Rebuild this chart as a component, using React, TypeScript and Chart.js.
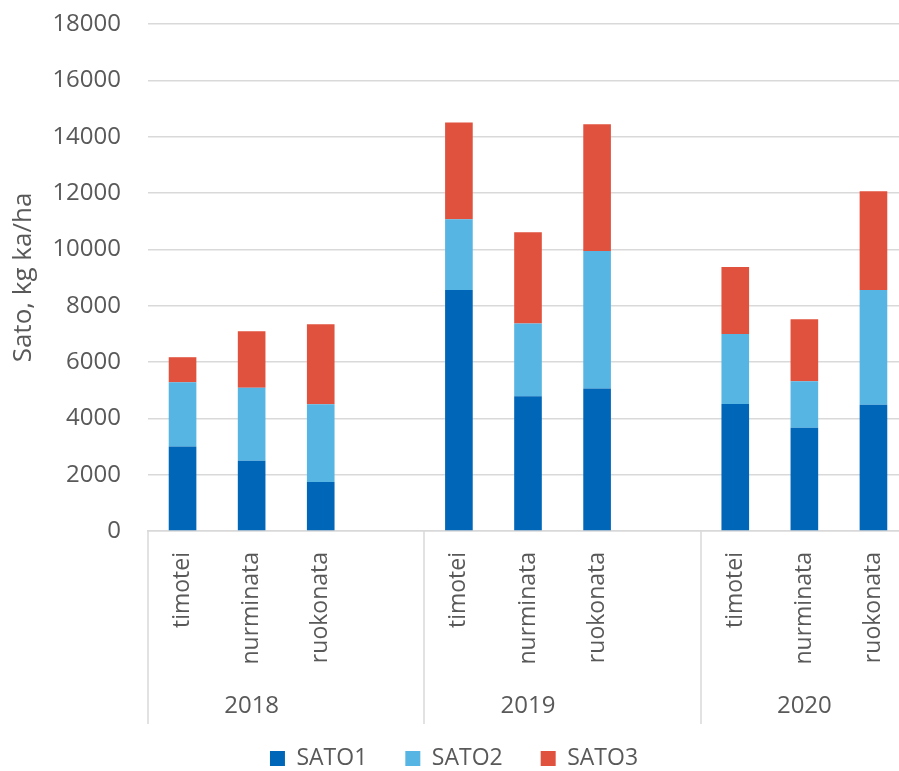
import { useEffect, useRef } from "react";
import { Chart, registerables } from "chart.js";

Chart.register(...registerables);

// Harvest yields (kg ka/ha) per year and grass species
const years = ["2018", "2019", "2020"];
const species = ["timotei", "nurminata", "ruokonata"];
const sato1 = [3000, 2490, 1740, 8560, 4780, 5060, 4510, 3670, 4480];
const sato2 = [2280, 2600, 2760, 2510, 2590, 4880, 2480, 1650, 4080];
const sato3 = [890, 2000, 2840, 3430, 3240, 4500, 2380, 2200, 3500];
const seriesNames = ["SATO1", "SATO2", "SATO3"];
const seriesColors = ["#0066B8", "#56B5E3", "#E1523E"];
const yMin = 0;
const yMax = 18000;
const yStep = 2000;
const yTitle = "Sato, kg ka/ha";

const FONT = '"Open Sans", "DejaVu Sans", sans-serif';
const TEXT = "#595959";
const GRID = "#d9d9d9";

// One empty slot separates the year groups on the category axis
const groupStarts: number[] = [];
const labels: string[] = [];
years.forEach((_, g) => {
  if (g > 0) labels.push("");
  groupStarts.push(labels.length);
  species.forEach((s) => labels.push(s));
});

function spread(values: number[]): (number | null)[] {
  const out: (number | null)[] = [];
  years.forEach((_, g) => {
    if (g > 0) out.push(null);
    species.forEach((__, i) => out.push(values[g * species.length + i]));
  });
  return out;
}

// Draws the year row under the species labels and the group separators
const yearGroups = {
  id: "yearGroups",
  afterDraw(chart: any) {
    const { ctx, chartArea, scales } = chart;
    const x = scales.x;
    const bottom = chartArea.bottom;
    const half = (x.getPixelForValue(1) - x.getPixelForValue(0)) / 2;
    ctx.save();
    ctx.strokeStyle = GRID;
    ctx.lineWidth = 1.5;
    groupStarts.forEach((start) => {
      const px = Math.round(x.getPixelForValue(start) - half);
      ctx.beginPath();
      ctx.moveTo(px, bottom);
      ctx.lineTo(px, bottom + 193);
      ctx.stroke();
    });
    ctx.fillStyle = TEXT;
    ctx.font = `24px ${FONT}`;
    ctx.textAlign = "center";
    ctx.textBaseline = "middle";
    years.forEach((yr, g) => {
      const mid = groupStarts[g] + Math.floor(species.length / 2);
      ctx.fillText(yr, x.getPixelForValue(mid), bottom + 175);
    });
    ctx.restore();
  },
};

export default function App() {
  const ref = useRef<HTMLCanvasElement | null>(null);

  useEffect(() => {
    if (!ref.current) return;
    const values = [sato1, sato2, sato3];
    const chart = new Chart(ref.current, {
      type: "bar",
      data: {
        labels,
        datasets: seriesNames.map((name, i) => ({
          label: name,
          data: spread(values[i]),
          backgroundColor: seriesColors[i],
          borderWidth: 0,
          barPercentage: 0.4,
          categoryPercentage: 1,
        })),
      },
      options: {
        responsive: false,
        animation: false,
        devicePixelRatio: 1,
        layout: { padding: { top: 24, left: 0, right: 0, bottom: 0 } },
        plugins: {
          legend: {
            position: "bottom",
            labels: {
              boxWidth: 15,
              boxHeight: 15,
              padding: 38,
              color: TEXT,
              font: { family: FONT, size: 23 },
            },
          },
          tooltip: { enabled: false },
        },
        scales: {
          x: {
            stacked: true,
            grid: { display: false, drawTicks: false },
            border: { display: true, color: GRID, width: 1.5 },
            ticks: {
              autoSkip: false,
              minRotation: 90,
              maxRotation: 90,
              padding: 21,
              color: TEXT,
              font: { family: FONT, size: 23 },
            },
            afterFit(scale: any) {
              scale.height = 178;
              scale.paddingLeft = 0;
              scale.paddingRight = 0;
            },
          },
          y: {
            stacked: true,
            min: yMin,
            max: yMax,
            grid: { color: GRID, lineWidth: 1.5, drawTicks: false },
            border: { display: false },
            ticks: {
              stepSize: yStep,
              padding: 27,
              color: TEXT,
              font: { family: FONT, size: 24 },
              callback: (v: any) => String(v),
            },
            title: {
              display: true,
              text: yTitle,
              color: TEXT,
              font: { family: FONT, size: 26 },
              padding: { top: 8, bottom: 0 },
            },
            afterFit(scale: any) {
              scale.width = 148;
              scale.paddingTop = 0;
              scale.paddingBottom = 0;
            },
          },
        },
      },
      plugins: [yearGroups],
    });
    return () => chart.destroy();
  }, []);

  return (
    <div
      style={{
        position: "absolute",
        left: 0,
        top: 0,
        width: 899,
        height: 771,
        overflow: "hidden",
        background: "#ffffff",
      }}
    >
      <canvas ref={ref} width={908} height={780} style={{ display: "block" }} />
    </div>
  );
}
